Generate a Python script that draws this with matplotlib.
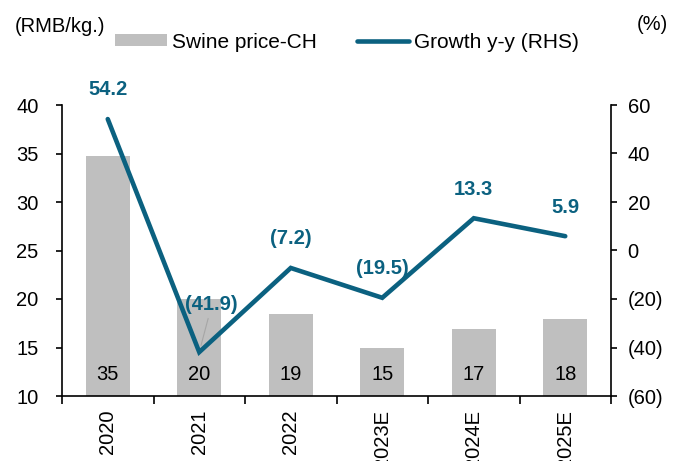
import matplotlib
matplotlib.use("Agg")
import matplotlib.pyplot as plt
from matplotlib.patches import Patch
from matplotlib.lines import Line2D
import numpy as np

plt.rcParams['font.family'] = ['Liberation Sans', 'DejaVu Sans']

years = ['2020', '2021', '2022', '2023E', '2024E', '2025E']
price = [34.7, 20.0, 18.5, 14.9, 16.9, 17.9]
price_labels = ['35', '20', '19', '15', '17', '18']
growth = [54.2, -41.9, -7.2, -19.5, 13.3, 5.9]
growth_labels = ['54.2', '(41.9)', '(7.2)', '(19.5)', '13.3', '5.9']
left_ticks = [10, 15, 20, 25, 30, 35, 40]
right_ticks = [-60, -40, -20, 0, 20, 40, 60]

BAR = '#BFBFBF'
LINE = '#0B6180'
FS = 14.5

fig = plt.figure(figsize=(6.8, 4.61), dpi=100)
ax = fig.add_axes([62/680, 1-396/461, (611-62)/680, (396-105)/461])
ax2 = ax.twinx()

x = np.arange(len(years))
ax.bar(x, price, width=0.48, color=BAR, zorder=2)
for xi, lab in zip(x, price_labels):
    ax.text(xi, 12.2, lab, ha='center', va='center', fontsize=FS, color='black', zorder=3)

ax.set_xlim(-0.5, len(years) - 0.5)
ax.set_ylim(10, 40)
ax.set_yticks(left_ticks)
ax.set_yticklabels([str(t) for t in left_ticks], fontsize=FS)

ax.set_xticks(x)
ax.set_xticklabels(years, rotation=90, fontsize=FS)
ax.set_xticks(np.arange(len(years) + 1) - 0.5, minor=True)
ax.tick_params(axis='x', which='major', length=0, pad=10)
ax.tick_params(axis='x', which='minor', length=6, width=1.2, direction='out')
ax.tick_params(axis='y', length=4, width=1.2, direction='out', pad=13)

ax2.plot(x, growth, color=LINE, lw=3.3, solid_capstyle='round', solid_joinstyle='miter', zorder=4)
ax2.set_ylim(-60, 60)
ax2.set_yticks(right_ticks)
ax2.set_yticklabels([f'({abs(t)})' if t < 0 else str(t) for t in right_ticks], fontsize=FS)
ax2.tick_params(axis='y', length=4, width=1.2, direction='out', pad=8)

for i, (xi, v, lab) in enumerate(zip(x, growth, growth_labels)):
    if i == 1:
        ax2.annotate(lab, xy=(xi, v), xytext=(9, 34), textcoords='offset points',
                     ha='center', va='center', fontsize=FS, fontweight='bold', color=LINE,
                     arrowprops=dict(arrowstyle='-', color='#A6A6A6', lw=0.8,
                                     shrinkA=1, shrinkB=5))
    else:
        ax2.annotate(lab, xy=(xi, v), xytext=(0, 21), textcoords='offset points',
                     ha='center', va='center', fontsize=FS, fontweight='bold', color=LINE)

for a in (ax, ax2):
    a.spines['top'].set_visible(False)
    for s in a.spines.values():
        s.set_linewidth(1.2)
ax.spines['right'].set_visible(False)
ax2.spines['left'].set_visible(False)
ax2.spines['bottom'].set_visible(False)

fig.text(15/680, 1-27/461, '(RMB/kg.)', fontsize=FS, ha='left', va='center')
fig.text(668/680, 1-24/461, '(%)', fontsize=FS, ha='right', va='center')

handles = [Patch(facecolor=BAR, edgecolor='none'),
           Line2D([0], [0], color=LINE, lw=3.3, solid_capstyle='round')]
fig.legend(handles, ['Swine price-CH', 'Growth y-y (RHS)'], ncol=2, loc='center',
           bbox_to_anchor=(347/680, 1-42/461), frameon=False, fontsize=15,
           handlelength=2.5, handleheight=0.45, handletextpad=0.25, columnspacing=1.9)

fig.savefig('out.png', dpi=100)
